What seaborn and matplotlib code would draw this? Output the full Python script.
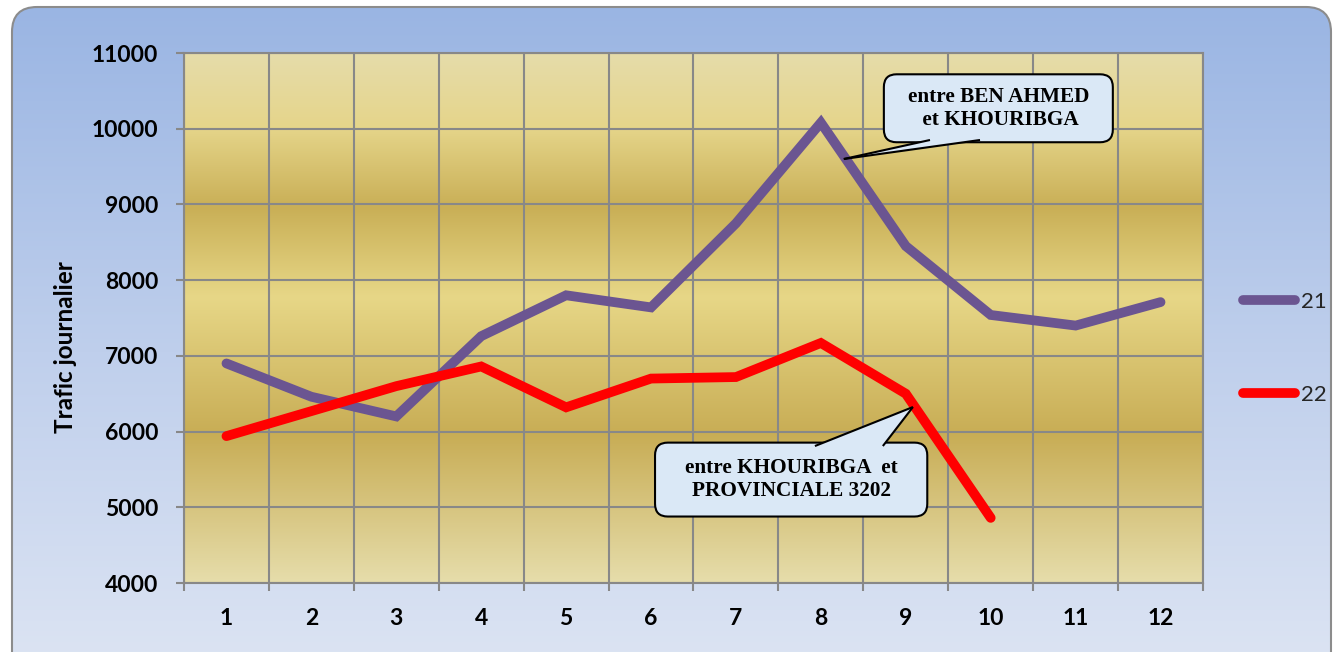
import numpy as np
import pandas as pd
import matplotlib
matplotlib.use("Agg")
import matplotlib.pyplot as plt
import seaborn as sns
from matplotlib.colors import LinearSegmentedColormap
from matplotlib.patches import FancyBboxPatch, BoxStyle, Polygon
from matplotlib.lines import Line2D

# ---- data -------------------------------------------------------------
months = list(range(1, 13))
route_21 = [6900, 6460, 6200, 7260, 7800, 7640, 8750, 10080, 8450, 7540, 7400, 7710]
route_22 = [5940, 6270, 6600, 6860, 6320, 6700, 6720, 7170, 6500, 4860]
series_names = ["21", "22"]
series_colors = ["#6B5591", "#FF0000"]
y_ticks = [4000, 5000, 6000, 7000, 8000, 9000, 10000, 11000]
y_title = "Trafic journalier"
callout_21 = "entre BEN AHMED\n et KHOURIBGA"
callout_22 = "entre KHOURIBGA  et\nPROVINCIALE 3202"

df = pd.concat([
    pd.DataFrame({"mois": months[:len(route_21)], "trafic": route_21, "serie": series_names[0]}),
    pd.DataFrame({"mois": months[:len(route_22)], "trafic": route_22, "serie": series_names[1]}),
], ignore_index=True)

sns.set_theme(style="white")
plt.rcParams["font.family"] = ["Lato", "DejaVu Sans"]

W, H = 1337, 652
fig = plt.figure(figsize=(W / 100, H / 100), dpi=100, facecolor="white")

# ---- rounded blue panel behind the chart ------------------------------
bg = fig.add_axes([0, 0, 1, 1], zorder=-10)
bg.set_xlim(0, W)
bg.set_ylim(H, 0)
bg.set_axis_off()
grad = np.linspace(0, 1, 256).reshape(-1, 1)
blue = LinearSegmentedColormap.from_list("panel", ["#9AB5E3", "#BFCFEC", "#DFE6F4"])
panel = FancyBboxPatch((12, 7), 1319, 690, boxstyle="round,pad=0,rounding_size=25",
                       fc="none", ec="#8C8C8C", lw=1.5, zorder=2)
im = bg.imshow(grad, cmap=blue, extent=(12, 1331, 697, 7), aspect="auto", zorder=1)
bg.add_patch(panel)
im.set_clip_path(panel)

# ---- plot area --------------------------------------------------------
ax = fig.add_axes([184 / W, 1 - 583 / H, (1203 - 184) / W, (583 - 53) / H])
gold = LinearSegmentedColormap.from_list("gold", [
    (0.00, "#E6DCAA"), (0.14, "#E5D58A"), (0.29, "#C9AF56"),
    (0.46, "#E7D787"), (0.72, "#C8AD55"), (1.00, "#E6DDAB")])
ax.imshow(grad, cmap=gold, extent=(0, 1, 0, 1), transform=ax.transAxes,
          aspect="auto", zorder=0)

sns.lineplot(data=df, x="mois", y="trafic", hue="serie",
             palette=dict(zip(series_names, series_colors)),
             linewidth=7, estimator=None, sort=False, legend=False, ax=ax, zorder=3)
for ln in ax.get_lines():
    ln.set_solid_capstyle("round")
    ln.set_solid_joinstyle("miter")

ax.set_xlim(months[0] - 0.5, months[-1] + 0.5)
ax.set_ylim(y_ticks[0], y_ticks[-1])

grid_col = "#888888"
ax.set_xticks(months)
ax.set_xticklabels([str(m) for m in months])
ax.set_xticks([m - 0.5 for m in months] + [months[-1] + 0.5], minor=True)
ax.set_yticks(y_ticks)
ax.set_yticklabels([str(v) for v in y_ticks])
ax.tick_params(axis="x", which="major", length=0, pad=18, labelsize=16.5)
ax.tick_params(axis="x", which="minor", length=6, width=1.5, color=grid_col, bottom=True)
ax.tick_params(axis="y", which="major", length=6, width=1.5, color=grid_col, pad=12.5,
               labelsize=16.5, left=True)
for lab in ax.get_xticklabels() + ax.get_yticklabels():
    lab.set_fontweight("bold")
    lab.set_color("black")

ax.grid(False)
ax.grid(which="minor", axis="x", color=grid_col, lw=1.5, zorder=1)
ax.grid(which="major", axis="y", color=grid_col, lw=1.5, zorder=1)
for sp in ax.spines.values():
    sp.set_color(grid_col)
    sp.set_linewidth(1.5)
    sp.set_visible(True)

ax.set_xlabel("")
ax.set_ylabel(y_title, fontsize=17.5, fontweight="bold", color="black")
ax.yaxis.set_label_coords((66 - 184) / 1019, (583 - 347.5) / 530)
ax.yaxis.label.set_va("center")

# ---- legend -----------------------------------------------------------
handles = [Line2D([], [], color=c, lw=7, solid_capstyle="round") for c in series_colors]
ax.legend(handles, series_names, loc="center left",
          bbox_to_anchor=((1243 - 184) / 1019, 0.4425), frameon=False,
          fontsize=16, handlelength=2.35, handletextpad=0.27, labelspacing=3.3,
          borderpad=0, borderaxespad=0)


# ---- callouts ---------------------------------------------------------
class CalloutBox(BoxStyle.Round):
    def __init__(self, padx=1.0, pady=0.6, rounding_size=0.6):
        super().__init__(pad=0, rounding_size=rounding_size)
        self.padx, self.pady = padx, pady

    def __call__(self, x0, y0, width, height, mutation_size):
        px, py = self.padx * mutation_size, self.pady * mutation_size
        return super().__call__(x0 - px, y0 - py, width + 2 * px, height + 2 * py,
                                mutation_size)


box_fc = "#DAE8F6"
text_kw = dict(ha="center", va="center", fontsize=15.3, fontweight="bold",
               family=["Liberation Serif", "DejaVu Serif"], color="black",
               linespacing=1.22, zorder=6)


def callout(text, center, tip, base, padx, pady):
    ax.text(center[0], center[1], text,
            bbox=dict(boxstyle=CalloutBox(padx=padx, pady=pady), fc=box_fc,
                      ec="black", lw=1.5), **text_kw)
    # pointer: filled wedge merged into the box, outlined on its two sides
    ax.add_patch(Polygon([base[0], tip, base[1]], closed=True, fc=box_fc,
                         ec="none", zorder=7))
    for b in base:
        ax.add_line(Line2D([b[0], tip[0]], [b[1], tip[1]], color="black",
                           lw=1.5, zorder=7, solid_capstyle="butt"))


callout(callout_21, center=(10.09, 10270), tip=(8.27, 9600),
        base=[(9.285, 9851), (9.874, 9851)], padx=1.12, pady=0.58)
callout(callout_22, center=(7.65, 5366), tip=(9.084, 6324),
        base=[(7.93, 5809), (8.73, 5809)], padx=1.4, pady=0.72)

fig.savefig("out.png", dpi=100, facecolor="white")
